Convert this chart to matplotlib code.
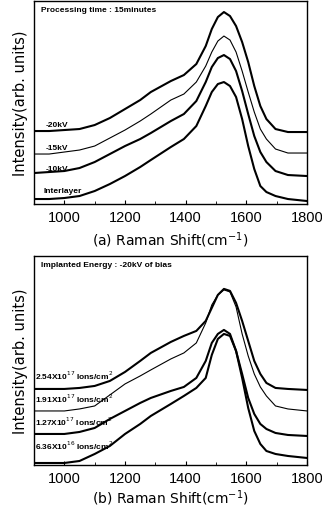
import numpy as np
import matplotlib
matplotlib.use("Agg")
import matplotlib.pyplot as plt
from matplotlib.ticker import MultipleLocator

plt.rcParams['font.family'] = ['Liberation Sans', 'DejaVu Sans']

# Raman shift positions (cm-1), same for every trace
shift = [900, 950, 1000, 1050, 1100, 1150, 1200, 1250, 1285, 1351, 1394, 1435, 1466,
         1486, 1506, 1526, 1546, 1566, 1586, 1606, 1626, 1646, 1666, 1696, 1737, 1800]

# (a) processing time 15 minutes, intensity in arb. units (offset stack)
kv20 = [73, 73, 74, 75, 79, 86, 95, 104, 112, 123, 129, 140, 158,
        175, 187, 192, 188, 178, 162, 142, 118, 98, 85, 75, 72, 72]
kv15 = [50, 50, 52, 54, 58, 66, 74, 83, 90, 104, 110, 122, 138,
        152, 163, 168, 164, 152, 133, 112, 92, 75, 65, 55, 51, 51]
kv10 = [31, 32, 33, 36, 42, 50, 58, 65, 71, 83, 90, 103, 122,
        137, 146, 149, 145, 133, 113, 90, 68, 52, 42, 33, 29, 28]
inter = [5, 5, 6, 8, 13, 20, 28, 37, 44, 57, 65, 78, 98,
         112, 120, 122, 118, 107, 85, 58, 35, 18, 12, 8, 5, 3]

# (b) implanted energy -20kV of bias, dose series
d254 = [76, 76, 76, 77, 79, 84, 93, 104, 112, 123, 129, 134, 144,
        157, 170, 176, 174, 162, 144, 124, 104, 91, 82, 77, 76, 75]
d191 = [54, 54, 54, 56, 59, 70, 81, 89, 95, 106, 112, 122, 142,
        160, 170, 175, 173, 158, 131, 109, 91, 78, 69, 59, 56, 54]
d127 = [31, 31, 31, 33, 37, 46, 54, 62, 67, 74, 78, 87, 104,
        122, 131, 135, 131, 114, 91, 67, 51, 41, 36, 32, 30, 29]
d636 = [2, 2, 2, 4, 11, 19, 31, 41, 49, 61, 69, 77, 87,
        110, 126, 131, 129, 114, 87, 57, 34, 21, 14, 11, 9, 7]

labels_a = ['-20kV', '-15kV', '-10kV', 'Interlayer']
labels_b = ['2.54X10$^{17}$ Ions/cm$^{2}$', '1.91X10$^{17}$ Ions/cm$^{2}$',
            '1.27X10$^{17}$ Ions/cm$^{2}$', '6.36X10$^{16}$ Ions/cm$^{2}$']

fig = plt.figure(figsize=(3.22, 5.10), dpi=100)
ax1 = fig.add_axes([0.1056, 0.598, 0.848, 0.398])
ax2 = fig.add_axes([0.1056, 0.0863, 0.848, 0.41])

widths = [1.5, 0.8, 1.5, 1.5]
for y, w in zip([kv20, kv15, kv10, inter], widths):
    ax1.plot(shift, y, color='black', lw=w)
for y, w in zip([d254, d191, d127, d636], widths):
    ax2.plot(shift, y, color='black', lw=w)

tk = dict(fontsize=6, fontweight='bold')
for lab, yy in zip(labels_a, [78, 55, 34, 12]):
    ax1.text(938 if lab != 'Interlayer' else 932, yy, lab, **tk)
for lab, yy in zip(labels_b, [86, 63, 40, 16]):
    ax2.text(902, yy, lab, **tk)
ax1.text(0.025, 0.95, 'Processing time : 15minutes', transform=ax1.transAxes, **tk)
ax2.text(0.025, 0.95, 'Implanted Energy : -20kV of bias', transform=ax2.transAxes, **tk)

ax1.set_ylim(0, 203)
ax2.set_ylim(0, 209)
ax1.set_xlabel('(a) Raman Shift(cm$^{-1}$)', fontsize=10, family='DejaVu Sans', labelpad=4)
ax2.set_xlabel('(b) Raman Shift(cm$^{-1}$)', fontsize=10, family='DejaVu Sans', labelpad=2)

for ax in (ax1, ax2):
    ax.set_xlim(900, 1800)
    ax.xaxis.set_major_locator(MultipleLocator(200))
    ax.xaxis.set_minor_locator(MultipleLocator(100))
    ax.tick_params(axis='x', direction='in', length=3, pad=4)
    ax.tick_params(axis='x', which='minor', direction='in', length=2)
    for t in ax.get_xticklabels():
        t.set_family(['Liberation Sans Narrow', 'Liberation Sans'])
        t.set_fontsize(10.5)
    ax.set_yticks([])
    ax.set_ylabel('Intensity(arb. units)', fontsize=10.5, family='DejaVu Sans', labelpad=4)
    for s in ax.spines.values():
        s.set_linewidth(1.0)

fig.savefig('out.png', dpi=100)
